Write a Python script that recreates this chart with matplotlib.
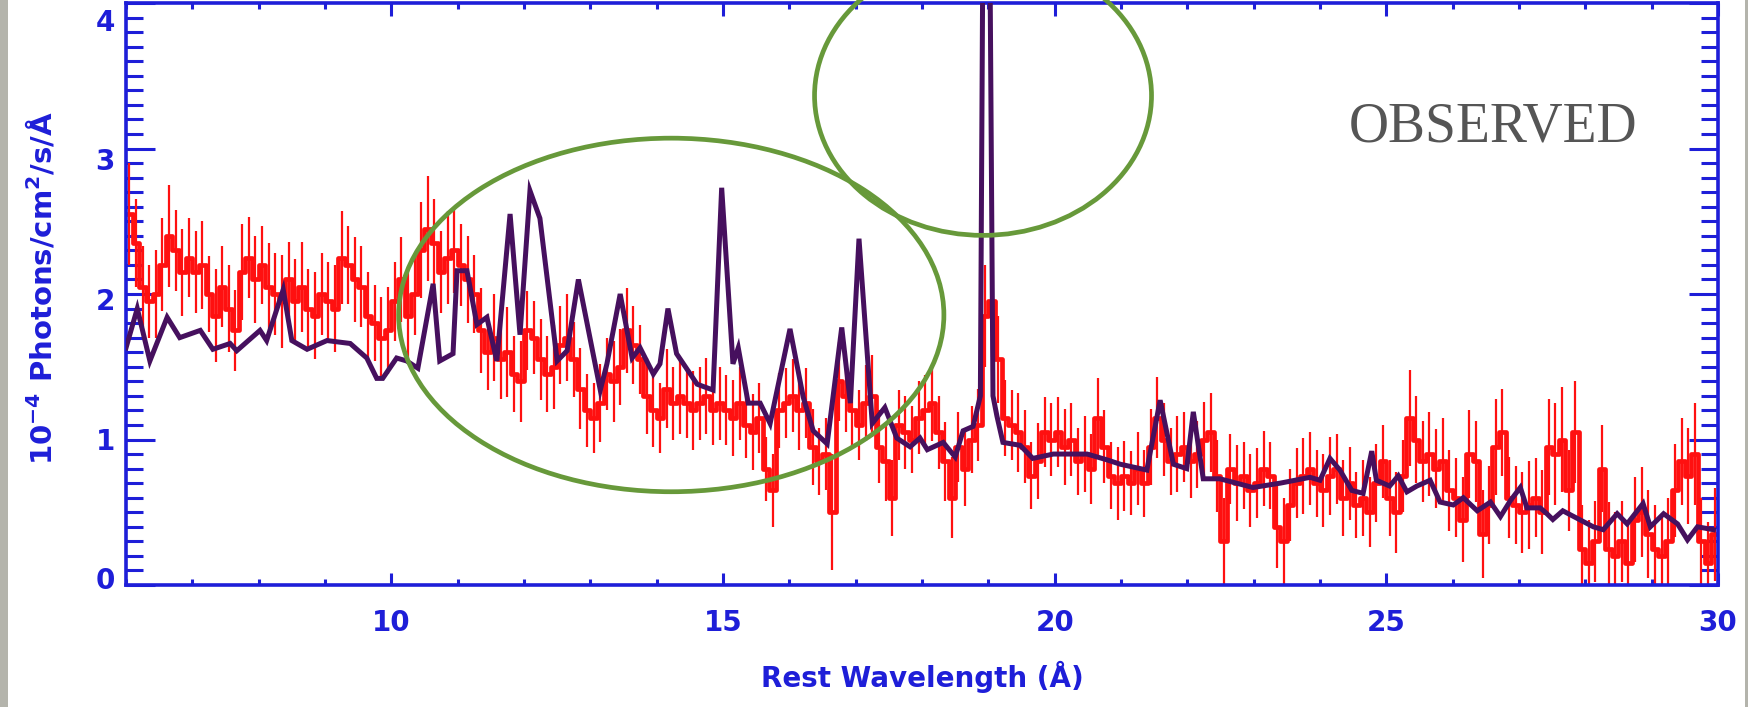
import numpy as np
import matplotlib.pyplot as plt
from matplotlib.patches import Ellipse, Rectangle
from matplotlib.ticker import MultipleLocator
from matplotlib.transforms import ScaledTranslation

plt.rcParams['font.family'] = ['DejaVu Sans']
plt.rcParams['mathtext.fontset'] = 'dejavusans'
plt.rcParams['mathtext.default'] = 'bf'

# observed spectrum, 0.1 A bins from 6 to 30 A
bin_width = 0.1
wave_obs = np.arange(6.05, 30.0, bin_width)
flux_obs = [
    2.55, 2.35, 2.05, 1.95, 2.00, 2.20, 2.40, 2.30, 2.15, 2.25,
    2.15, 2.20, 2.00, 1.85, 2.05, 1.90, 1.75, 2.15, 2.25, 2.10,
    2.20, 2.05, 2.00, 1.95, 2.10, 1.95, 2.05, 1.90, 1.85, 2.00,
    1.95, 1.90, 2.25, 2.20, 2.10, 2.05, 1.85, 1.80, 1.70, 1.75,
    1.95, 2.10, 1.85, 2.00, 2.30, 2.45, 2.35, 2.15, 2.25, 2.30,
    2.20, 2.10, 2.00, 1.75, 1.60, 1.70, 1.55, 1.60, 1.45, 1.40,
    1.75, 1.70, 1.55, 1.45, 1.50, 1.65, 1.70, 1.55, 1.35, 1.20,
    1.15, 1.25, 1.45, 1.40, 1.50, 1.75, 1.65, 1.55, 1.30, 1.20,
    1.15, 1.35, 1.25, 1.30, 1.25, 1.20, 1.25, 1.30, 1.20, 1.25,
    1.20, 1.15, 1.25, 1.10, 1.05, 1.15, 0.80, 0.65, 1.20, 1.25,
    1.30, 1.20, 1.25, 0.95, 0.85, 0.90, 0.50, 1.40, 1.30, 1.20,
    1.10, 1.25, 1.30, 0.95, 0.85, 0.60, 1.10, 1.05, 1.00, 1.15,
    1.20, 1.25, 1.05, 0.85, 0.60, 0.95, 0.80, 1.00, 1.10, 1.85,
    1.95, 1.55, 1.15, 1.10, 1.05, 0.95, 0.75, 0.85, 1.05, 1.00,
    1.05, 0.95, 1.00, 0.85, 0.90, 0.80, 1.15, 0.95, 0.75, 0.70,
    0.75, 0.70, 0.80, 0.70, 0.95, 1.15, 1.00, 0.85, 0.90, 0.95,
    0.85, 0.90, 1.00, 1.05, 0.75, 0.30, 0.80, 0.70, 0.75, 0.65,
    0.70, 0.80, 0.75, 0.40, 0.30, 0.55, 0.70, 0.75, 0.80, 0.70,
    0.65, 0.75, 0.80, 0.60, 0.70, 0.55, 0.60, 0.50, 0.70, 0.85,
    0.60, 0.50, 0.75, 1.15, 1.00, 0.85, 0.90, 0.80, 0.85, 0.65,
    0.60, 0.45, 0.90, 0.85, 0.35, 0.55, 0.95, 1.05, 0.60, 0.55,
    0.50, 0.55, 0.60, 0.50, 0.95, 0.90, 1.00, 0.65, 1.05, 0.25,
    0.15, 0.30, 0.80, 0.25, 0.20, 0.30, 0.15, 0.45, 0.50, 0.35,
    0.25, 0.20, 0.30, 0.65, 0.85, 0.75, 0.90, 0.30, 0.15, 0.35,
]
err_obs = [
    0.35, 0.30, 0.28, 0.25, 0.30, 0.32, 0.35, 0.28, 0.30, 0.27,
    0.28, 0.30, 0.26, 0.32, 0.28, 0.30, 0.28, 0.33, 0.28, 0.30,
    0.27, 0.30, 0.28, 0.32, 0.26, 0.29, 0.31, 0.27, 0.30, 0.28,
    0.27, 0.30, 0.32, 0.27, 0.29, 0.28, 0.30, 0.26, 0.28, 0.30,
    0.27, 0.29, 0.31, 0.28, 0.33, 0.36, 0.30, 0.28, 0.32, 0.29,
    0.28, 0.30, 0.27, 0.29, 0.26, 0.30, 0.27, 0.31, 0.26, 0.28,
    0.27, 0.25, 0.28, 0.26, 0.29, 0.27, 0.30, 0.26, 0.28, 0.25,
    0.24, 0.27, 0.25, 0.28, 0.26, 0.29, 0.27, 0.24, 0.26, 0.25,
    0.24, 0.27, 0.25, 0.26, 0.24, 0.27, 0.25, 0.26, 0.24, 0.25,
    0.24, 0.26, 0.25, 0.23, 0.26, 0.24, 0.22, 0.25, 0.26, 0.24,
    0.25, 0.27, 0.24, 0.26, 0.23, 0.25, 0.40, 0.27, 0.25, 0.26,
    0.24, 0.26, 0.28, 0.25, 0.27, 0.26, 0.24, 0.25, 0.23, 0.25,
    0.24, 0.26, 0.25, 0.27, 0.28, 0.24, 0.26, 0.23, 0.25, 0.35,
    0.38, 0.30, 0.26, 0.24, 0.27, 0.25, 0.23, 0.26, 0.24, 0.25,
    0.24, 0.26, 0.25, 0.23, 0.26, 0.24, 0.27, 0.25, 0.23, 0.25,
    0.24, 0.22, 0.25, 0.23, 0.26, 0.28, 0.25, 0.23, 0.26, 0.24,
    0.25, 0.23, 0.26, 0.27, 0.25, 0.30, 0.24, 0.26, 0.23, 0.25,
    0.24, 0.26, 0.23, 0.28, 0.30, 0.25, 0.24, 0.26, 0.25, 0.23,
    0.25, 0.27, 0.24, 0.26, 0.25, 0.23, 0.26, 0.24, 0.27, 0.25,
    0.26, 0.28, 0.25, 0.33, 0.30, 0.28, 0.29, 0.27, 0.30, 0.28,
    0.27, 0.29, 0.30, 0.28, 0.30, 0.27, 0.33, 0.30, 0.28, 0.27,
    0.28, 0.30, 0.27, 0.29, 0.33, 0.35, 0.36, 0.28, 0.35, 0.30,
    0.30, 0.28, 0.30, 0.32, 0.30, 0.28, 0.30, 0.29, 0.31, 0.30,
    0.30, 0.28, 0.30, 0.32, 0.30, 0.33, 0.35, 0.30, 0.28, 0.32,
]

# model curve
wave_model = [
    6.00, 6.17, 6.36, 6.62, 6.81, 7.12, 7.31, 7.57, 7.67, 8.02,
    8.12, 8.37, 8.50, 8.73, 9.03, 9.38, 9.63, 9.78, 9.87, 10.08,
    10.23, 10.40, 10.63, 10.73, 10.93, 10.99, 11.14, 11.29, 11.44, 11.59,
    11.79, 11.94, 12.09, 12.24, 12.50, 12.65, 12.82, 13.15, 13.25, 13.45,
    13.63, 13.75, 13.95, 14.05, 14.17, 14.30, 14.61, 14.85, 14.98, 15.15,
    15.23, 15.38, 15.56, 15.71, 16.01, 16.21, 16.36, 16.57, 16.79, 16.92,
    17.05, 17.25, 17.44, 17.62, 17.82, 17.97, 18.08, 18.32, 18.50, 18.62,
    18.77, 18.88, 18.92, 19.02, 19.07, 19.13, 19.22, 19.48, 19.67, 19.98,
    20.28, 20.49, 20.79, 20.99, 21.39, 21.59, 21.79, 21.99, 22.09, 22.24,
    22.49, 22.99, 23.40, 23.85, 24.00, 24.15, 24.30, 24.48, 24.65, 24.78,
    24.85, 25.05, 25.18, 25.31, 25.46, 25.66, 25.81, 26.01, 26.16, 26.37,
    26.57, 26.72, 26.87, 27.02, 27.12, 27.32, 27.42, 27.51, 27.66, 27.87,
    28.12, 28.27, 28.48, 28.63, 28.87, 28.98, 29.18, 29.39, 29.54, 29.69,
    29.93,
]
flux_model = [
    1.63, 1.90, 1.54, 1.84, 1.70, 1.75, 1.62, 1.66, 1.61, 1.75,
    1.68, 2.03, 1.68, 1.62, 1.68, 1.66, 1.56, 1.42, 1.42, 1.56,
    1.54, 1.49, 2.07, 1.54, 1.59, 2.16, 2.16, 1.79, 1.84, 1.54,
    2.55, 1.72, 2.71, 2.52, 1.54, 1.61, 2.10, 1.34, 1.52, 2.00,
    1.56, 1.63, 1.45, 1.52, 1.90, 1.59, 1.38, 1.34, 2.73, 1.52,
    1.63, 1.25, 1.25, 1.11, 1.76, 1.29, 1.06, 0.97, 1.77, 1.25,
    2.38, 1.11, 1.22, 1.01, 0.95, 1.01, 0.93, 0.98, 0.88, 1.06,
    1.09, 1.30, 4.60, 4.60, 1.30, 1.16, 0.98, 0.96, 0.87, 0.90,
    0.90, 0.90, 0.86, 0.83, 0.79, 1.27, 0.83, 0.80, 1.19, 0.73,
    0.73, 0.67, 0.70, 0.74, 0.72, 0.87, 0.79, 0.65, 0.63, 0.92,
    0.72, 0.68, 0.75, 0.64, 0.68, 0.72, 0.57, 0.55, 0.60, 0.51,
    0.57, 0.47, 0.58, 0.67, 0.53, 0.53, 0.49, 0.45, 0.51, 0.46,
    0.40, 0.38, 0.49, 0.42, 0.56, 0.40, 0.49, 0.42, 0.31, 0.40,
    0.38,
]

axis_blue = '#1e1ed8'
red = '#ff1010'
purple = '#46105e'
green = '#67993a'

fig = plt.figure(figsize=(17.49, 7.07), dpi=100)
fig.patch.set_facecolor('white')
fig.patches.append(Rectangle((0, 0), 8 / 1749, 1, transform=fig.transFigure,
                             facecolor='#b4b4ac', edgecolor='none'))
fig.patches.append(Rectangle((1745 / 1749, 0), 4 / 1749, 1, transform=fig.transFigure,
                             facecolor='#b4b4ac', edgecolor='none'))

ax = fig.add_axes([126 / 1749, 1 - 585 / 707, 1592 / 1749, 582 / 707])

flux = np.array(flux_obs)
err = np.array(err_obs)
ax.vlines(wave_obs, flux - err, flux + err, color=red, lw=1.6, zorder=2)
ax.step(wave_obs, flux, where='mid', color=red, lw=3.4, zorder=2)
ax.plot(wave_model, flux_model, color=purple, lw=3.6, zorder=3,
        solid_joinstyle='miter')

ax.set_xlim(6, 30)
ax.set_ylim(0, 4)

for side in ax.spines.values():
    side.set_color(axis_blue)
    side.set_linewidth(2.6)

ax.xaxis.set_major_locator(MultipleLocator(5))
ax.xaxis.set_minor_locator(MultipleLocator(1))
ax.yaxis.set_major_locator(MultipleLocator(1))
ax.yaxis.set_minor_locator(MultipleLocator(0.1))
ax.tick_params(axis='both', which='both', direction='in', colors=axis_blue,
               top=True, right=True, width=2.2)
ax.tick_params(axis='x', which='major', length=9, pad=17, labelsize=20)
ax.tick_params(axis='x', which='minor', length=4)
ax.tick_params(axis='y', which='major', length=21, pad=8, labelsize=20)
ax.tick_params(axis='y', which='minor', length=12)
for lab in ax.get_xticklabels() + ax.get_yticklabels():
    lab.set_fontweight('bold')
    lab.set_color(axis_blue)

ax.set_xlabel('Rest Wavelength (Å)', color=axis_blue, fontsize=20,
              fontweight='bold')
ax.xaxis.set_label_coords(0.5, -0.13)
ax.set_ylabel('10$^{-4}$ Photons/cm$^{2}$/s/Å', color=axis_blue, fontsize=21,
              fontweight='bold')
ax.yaxis.set_label_coords(-0.043, 0.51)

# IDL-style labels sit slightly spread from their ticks
fig.canvas.draw()
for tick in ax.yaxis.get_major_ticks():
    v = tick.get_loc()
    shift = (-7 + 6 * v) / fig.dpi
    tick.label1.set_transform(tick.label1.get_transform()
                              + ScaledTranslation(0, -shift, fig.dpi_scale_trans))

# green circles drawn over the plot
ax.add_patch(Ellipse((14.22, 1.856), 8.22, 2.43, fill=False, edgecolor=green,
                     lw=3.4, clip_on=False, zorder=5))
ax.add_patch(Ellipse((18.92, 3.363), 5.08, 1.92, fill=False, edgecolor=green,
                     lw=3.4, clip_on=False, zorder=5))

fig.text(1493 / 1749, 1 - 127 / 707, 'OBSERVED', family='Liberation Serif',
         fontsize=40, color='#555555', ha='center', va='center')

fig.savefig('out.png', dpi=100)
